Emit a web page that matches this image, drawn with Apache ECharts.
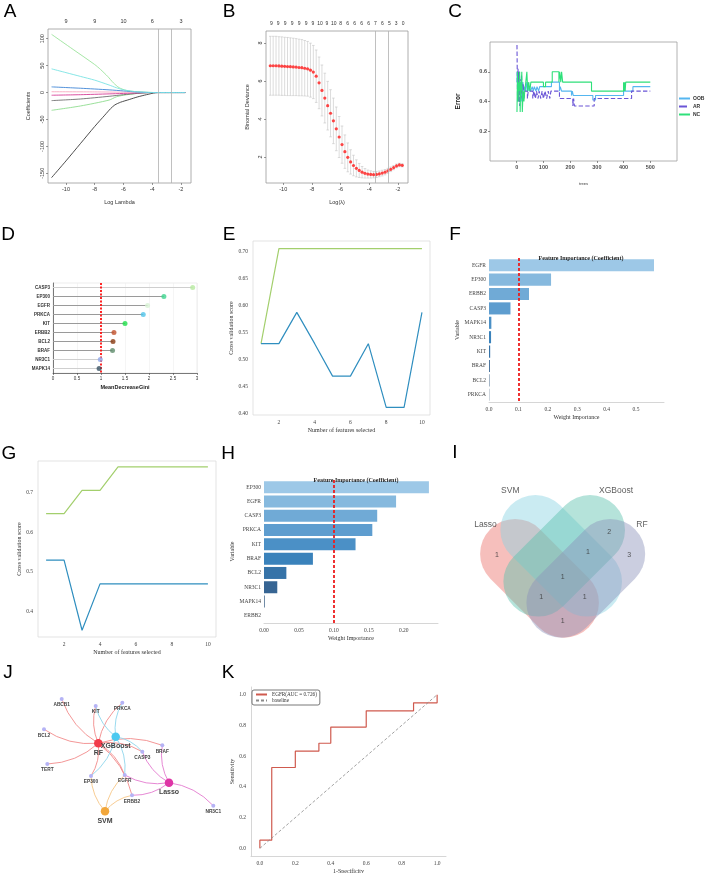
<!DOCTYPE html>
<html>
<head>
<meta charset="utf-8">
<script src="https://cdn.jsdelivr.net/npm/echarts@6/dist/echarts.min.js"></script>
<style>
  html, body { margin: 0; padding: 0; background: #fff; }
  #main { width: 708px; height: 873px; }
</style>
</head>
<body>
<div id="main"></div>
<script>
/* multi-panel figure: lasso / RF / RFE / venn / network / ROC */

const sans = 'Liberation Sans, Arial, sans-serif';
const serif = 'Liberation Serif, Times New Roman, serif';

// ---- A: lasso coefficient paths
const lassoLambdaTicks = [-10, -8, -6, -4, -2];
const lassoTopLabels = ['9', '9', '10', '6', '3'];
const lassoCoefTicks = [-150, -100, -50, 0, 50, 100];
const pathGreenTop = [[-11, 108], [-9.5, 80], [-8, 52], [-7.6, 43], [-7.1, 30], [-6.7, 18], [-6.3, 9], [-5.8, 4], [-5.2, 1.8], [-4.4, 0.6], [-3.8, 0], [-1.7, 0]];
const pathBlue = [[-11, 10.5], [-9, 8], [-7, 5], [-6, 3], [-5, 0.8], [-4, 0], [-1.7, 0]];
const pathPink = [[-11, 1.5], [-8, 1.2], [-6, 0.6], [-4, 0], [-1.7, 0]];
const pathMagenta = [[-11, -5], [-9, -4], [-7, -2.5], [-5, -0.8], [-4, 0], [-1.7, 0]];
const pathGray = [[-11, -15], [-9, -12], [-7, -7], [-6, -4], [-5, -1.5], [-4, 0], [-1.7, 0]];
const pathGreenLow = [[-11, -33], [-9, -25], [-7, -14], [-6.5, -8], [-6, -5], [-5, -1.5], [-4, 0], [-1.7, 0]];
const pathBlack = [[-11, -158], [-10, -127], [-9, -95], [-8, -63], [-7.3, -42], [-6.9, -30], [-6.6, -23], [-6.2, -18], [-5.6, -13], [-5, -8], [-4.4, -4], [-3.9, -1], [-3.6, 0], [-1.7, 0]];
const pathCyan = [[-11, 44], [-10, 37], [-9, 30], [-8, 23], [-7, 14], [-6.5, 9], [-6, 5], [-5.3, 2], [-4.5, 0.5], [-3.8, 0], [-1.7, 0]];
const lambdaMin = -3.56;
const lambda1se = -2.65;

// ---- B: cross-validated binomial deviance
const cvLambda = [-10.9, -10.7, -10.5, -10.3, -10.1, -9.9, -9.7, -9.5, -9.3, -9.1, -8.9, -8.7, -8.5, -8.3, -8.1, -7.9, -7.7, -7.5, -7.3, -7.1, -6.9, -6.7, -6.5, -6.3, -6.1, -5.9, -5.7, -5.5, -5.3, -5.1, -4.9, -4.7, -4.5, -4.3, -4.1, -3.9, -3.7, -3.5, -3.3, -3.1, -2.9, -2.7, -2.5, -2.3, -2.1, -1.9, -1.7];
const cvDeviance = [6.80, 6.80, 6.80, 6.79, 6.78, 6.77, 6.76, 6.75, 6.74, 6.73, 6.71, 6.70, 6.67, 6.64, 6.57, 6.47, 6.25, 5.90, 5.50, 5.10, 4.70, 4.30, 3.90, 3.48, 3.05, 2.65, 2.28, 1.98, 1.74, 1.55, 1.40, 1.29, 1.20, 1.14, 1.10, 1.08, 1.07, 1.08, 1.11, 1.15, 1.20, 1.27, 1.35, 1.44, 1.53, 1.58, 1.56];
const cvSpread = [1.55, 1.55, 1.55, 1.54, 1.54, 1.53, 1.53, 1.52, 1.51, 1.50, 1.49, 1.48, 1.46, 1.44, 1.42, 1.40, 1.38, 1.36, 1.34, 1.31, 1.28, 1.24, 1.20, 1.15, 1.08, 0.98, 0.88, 0.76, 0.64, 0.54, 0.45, 0.37, 0.30, 0.25, 0.21, 0.19, 0.17, 0.16, 0.15, 0.15, 0.14, 0.13, 0.12, 0.11, 0.10, 0.09, 0.08];
const cvTopTicks = [-10.83, -10.35, -9.86, -9.38, -8.89, -8.41, -7.93, -7.44, -6.96, -6.47, -5.99, -5.51, -5.02, -4.54, -4.05, -3.57, -3.09, -2.60, -2.12, -1.64];
const cvTopLabels = ['9', '9', '9', '9', '9', '9', '9', '10', '9', '10', '8', '6', '6', '6', '6', '7', '6', '5', '3', '0'];
const cvDevTicks = [2, 4, 6, 8];

// ---- C: random forest error vs trees
const treeTicks = [0, 100, 200, 300, 400, 500];
const errTicks = [0.2, 0.4, 0.6];
const oobErr = [[1, 0.53], [2, 0.6], [4, 0.4], [6, 0.53], [8, 0.47], [10, 0.6], [12, 0.47], [14, 0.53], [17, 0.4], [20, 0.47], [23, 0.53], [26, 0.47], [30, 0.5], [34, 0.47], [38, 0.53], [42, 0.47], [46, 0.5], [52, 0.47], [58, 0.5], [62, 0.47], [66, 0.5], [72, 0.47], [76, 0.5], [82, 0.47], [86, 0.5], [130, 0.53], [160, 0.47], [163, 0.5], [168, 0.47], [205, 0.44], [208, 0.47], [212, 0.44], [285, 0.41], [295, 0.44], [400, 0.47], [435, 0.5], [500, 0.5]];
const arErr = [[1, 0.78], [2, 0.6], [3, 0.42], [5, 0.62], [7, 0.4], [9, 0.6], [11, 0.37], [13, 0.55], [15, 0.42], [18, 0.58], [21, 0.42], [24, 0.52], [27, 0.42], [30, 0.47], [40, 0.42], [43, 0.47], [60, 0.42], [64, 0.47], [70, 0.42], [74, 0.47], [80, 0.42], [84, 0.47], [90, 0.42], [95, 0.47], [100, 0.42], [106, 0.47], [112, 0.42], [118, 0.47], [124, 0.42], [128, 0.47], [160, 0.42], [210, 0.37], [213, 0.42], [216, 0.37], [290, 0.42], [430, 0.47], [500, 0.47]];
const ncErr = [[1, 0.33], [3, 0.6], [5, 0.4], [7, 0.53], [9, 0.47], [11, 0.6], [13, 0.33], [15, 0.53], [17, 0.47], [19, 0.6], [21, 0.33], [24, 0.47], [27, 0.4], [30, 0.47], [34, 0.53], [38, 0.6], [41, 0.47], [45, 0.53], [49, 0.47], [53, 0.53], [100, 0.5], [108, 0.53], [133, 0.6], [158, 0.53], [161, 0.6], [165, 0.53], [168, 0.6], [172, 0.53], [280, 0.47], [400, 0.53], [402, 0.47], [404, 0.53], [406, 0.47], [408, 0.53], [500, 0.53]];

// ---- D: mean decrease gini
const giniGenes = ['CASP3', 'EP300', 'EGFR', 'PRKCA', 'KIT', 'ERBB2', 'BCL2', 'BRAF', 'NR3C1', 'MAPK14'];
const giniValues = [2.91, 2.31, 1.97, 1.88, 1.50, 1.27, 1.25, 1.24, 0.985, 0.96];
const giniColors = ['#b6eaa0', '#3fd48e', '#d8f3d4', '#50c4ea', '#1fe04a', '#c2502a', '#8a3a10', '#5e8c6c', '#8ea6ea', '#3a5264'];

// ---- E / G: RFE cross validation
const nFeatures = [1, 2, 3, 4, 5, 6, 7, 8, 9, 10];
const rfeTrainE = [0.53, 0.706, 0.706, 0.706, 0.706, 0.706, 0.706, 0.706, 0.706, 0.706];
const rfeTestE = [0.53, 0.53, 0.588, 0.53, 0.47, 0.47, 0.53, 0.412, 0.412, 0.588];
const rfeTrainG = [0.647, 0.647, 0.706, 0.706, 0.765, 0.765, 0.765, 0.765, 0.765, 0.765];
const rfeTestG = [0.53, 0.53, 0.353, 0.47, 0.47, 0.47, 0.47, 0.47, 0.47, 0.47];
const featTicks = [2, 4, 6, 8, 10];
const scoreTicksE = [0.40, 0.45, 0.50, 0.55, 0.60, 0.65, 0.70];
const scoreTicksG = [0.4, 0.5, 0.6, 0.7];

// ---- F / H: coefficient importance
const genesF = ['EGFR', 'EP300', 'ERBB2', 'CASP3', 'MAPK14', 'NR3C1', 'KIT', 'BRAF', 'BCL2', 'PRKCA'];
const weightsF = [0.561, 0.211, 0.136, 0.073, 0.008, 0.007, 0.004, 0.003, 0.0015, 0.0008];
const weightTicksF = [0, 0.1, 0.2, 0.3, 0.4, 0.5];
const genesH = ['EP300', 'EGFR', 'CASP3', 'PRKCA', 'KIT', 'BRAF', 'BCL2', 'NR3C1', 'MAPK14', 'ERBB2'];
const weightsH = [0.236, 0.189, 0.162, 0.155, 0.131, 0.070, 0.032, 0.019, 0.001, 0];
const weightTicksH = [0, 0.05, 0.10, 0.15, 0.20];
const bluesD = ['#9dc8e7', '#86b9de', '#70aad6', '#5e9dcf', '#4b90c6', '#3a82bb', '#3673a8', '#376593', '#345a80', '#2e4e70'];
const cutoff = 0.1;

// ---- I: venn
const vennNames = ['Lasso', 'SVM', 'XGBoost', 'RF'];
const vennCenters = [[67.5, 148.3], [89.2, 125.8], [92.2, 125.8], [113.8, 148.3]];
const vennLengths = [139, 143, 143, 139];
const vennWidths = [70, 70, 70, 70];
const vennAngles = [-45, -45, 45, 45];
const vennColors = ['#ea716a', '#8ad2e2', '#5cc2ac', '#8b93bb'];
const vennLabelPos = [[13.5, 95], [38.3, 61], [144, 61], [170, 94.3]];
const vennCountPos = [[25, 125], [137.3, 102.3], [157.3, 125], [116, 122.3], [90.7, 146.7], [69.3, 166.7], [112.7, 166.7], [90.7, 190.7]];
const vennCounts = [1, 2, 3, 1, 1, 1, 1, 1];

// ---- J: network
const netGenes = ['ABCB1', 'KIT', 'PRKCA', 'BCL2', 'BRAF', 'CASP3', 'TERT', 'EP300', 'EGFR', 'ERBB2', 'NR3C1'];
const netGenePos = [[61.7, 59], [95.7, 66], [122.3, 62.7], [44, 89.3], [162.3, 105.3], [142.3, 111.7], [47.3, 124], [91, 136], [124.7, 135], [132, 155.3], [213.3, 165.7]];
const netModels = ['RF', 'XGBoost', 'Lasso', 'SVM'];
const netModelPos = [[98.3, 103.3], [115.7, 96.7], [169, 142.7], [105, 171.3]];
const netModelColors = ['#f23b4a', '#4cc9f0', '#de35a6', '#f2a73b'];
const netEdgeColors = ['#f28b8b', '#8fd6ec', '#e37bcf', '#f6c687'];
const netEdges = [
  ['RF', 'ABCB1'], ['RF', 'KIT'], ['RF', 'PRKCA'], ['RF', 'BCL2'], ['RF', 'TERT'], ['RF', 'EP300'], ['RF', 'EGFR'], ['RF', 'CASP3'], ['RF', 'ERBB2'], ['RF', 'BRAF'],
  ['XGBoost', 'KIT'], ['XGBoost', 'PRKCA'], ['XGBoost', 'EP300'], ['XGBoost', 'EGFR'], ['XGBoost', 'CASP3'],
  ['Lasso', 'NR3C1'], ['Lasso', 'EGFR'], ['Lasso', 'CASP3'], ['Lasso', 'ERBB2'], ['Lasso', 'BRAF'],
  ['SVM', 'EP300'], ['SVM', 'EGFR'], ['SVM', 'ERBB2'],
];

// ---- K: ROC
const rocFpr = [0, 0, 0.067, 0.067, 0.2, 0.2, 0.333, 0.333, 0.4, 0.4, 0.6, 0.6, 0.867, 0.867, 1, 1];
const rocTpr = [0, 0.053, 0.053, 0.526, 0.526, 0.632, 0.632, 0.684, 0.684, 0.789, 0.789, 0.895, 0.895, 0.947, 0.947, 1];
const rocTicks = [0, 0.2, 0.4, 0.6, 0.8, 1.0];
const baseline = [[0, 0], [1, 1]];

const chart = echarts.init(document.getElementById('main'), null, { renderer: 'canvas' });

const boxed = (left, top, width, height, color) => ({
  left, top, width, height, show: true, borderColor: color, borderWidth: 0.8,
  backgroundColor: 'transparent', containLabel: false, outerBoundsMode: 'none',
});
const plain = (left, top, width, height) => ({ left, top, width, height, containLabel: false, outerBoundsMode: 'none' });

const grids = [
  boxed(48, 29, 143, 154, '#9a9a9a'),   // A
  boxed(266, 31, 142, 152, '#9a9a9a'),  // B
  boxed(490, 42, 187, 119, '#a0a0a0'),  // C
  boxed(53, 283, 144, 90, '#e8e8e8'),   // D
  boxed(253, 241, 177, 174, '#dcdcdc'), // E
  plain(489, 258, 175, 144),            // F
  boxed(38, 461, 178, 176, '#dcdcdc'),  // G
  plain(264, 480, 174, 143),            // H
  plain(472, 430, 236, 210),            // I
  plain(0, 640, 236, 233),              // J
  plain(251, 687, 195, 169),            // K
];

const rTick = { show: true, length: 2, lineStyle: { color: '#555', width: 0.6 } };
const rLabel = { fontSize: 5.5, color: '#333', fontFamily: sans, margin: 3 };
const rName = { fontSize: 5.5, color: '#333', fontFamily: sans };
const sLabel = { fontSize: 5.5, color: '#444', fontFamily: serif, margin: 5 };
const sName = { fontSize: 6, color: '#333', fontFamily: serif };
const noLine = { show: false, onZero: false };
const grayLine = { show: true, onZero: false, lineStyle: { color: '#cccccc', width: 0.8 } };
const darkLine = { show: true, onZero: false, lineStyle: { color: '#444', width: 0.7 } };
const noSplit = { show: false };

function pickLabel(ticks, labels) {
  return (v) => {
    const i = ticks.findIndex((t) => Math.abs(t - v) < 1e-6);
    return i >= 0 ? labels[i] : '';
  };
}

const xAxis = [
  // 0 A bottom
  { gridIndex: 0, type: 'value', min: -11.25, max: -1.3, axisLine: noLine, splitLine: noSplit,
    axisTick: { ...rTick, customValues: lassoLambdaTicks }, axisLabel: { ...rLabel, customValues: lassoLambdaTicks },
    name: 'Log Lambda', nameLocation: 'middle', nameGap: 16, nameTextStyle: rName },
  // 1 A top
  { gridIndex: 0, type: 'value', position: 'top', min: -11.25, max: -1.3, axisLine: noLine, splitLine: noSplit,
    axisTick: { show: false }, axisLabel: { ...rLabel, margin: 5, customValues: lassoLambdaTicks, formatter: pickLabel(lassoLambdaTicks, lassoTopLabels) } },
  // 2 B bottom
  { gridIndex: 1, type: 'value', min: -11.2, max: -1.3, axisLine: noLine, splitLine: noSplit,
    axisTick: { ...rTick, customValues: lassoLambdaTicks }, axisLabel: { ...rLabel, customValues: lassoLambdaTicks },
    name: 'Log(λ)', nameLocation: 'middle', nameGap: 16, nameTextStyle: rName },
  // 3 B top
  { gridIndex: 1, type: 'value', position: 'top', min: -11.2, max: -1.3, axisLine: noLine, splitLine: noSplit,
    axisTick: { show: false }, axisLabel: { ...rLabel, fontSize: 5, margin: 5, customValues: cvTopTicks, formatter: pickLabel(cvTopTicks, cvTopLabels) } },
  // 4 C
  { gridIndex: 2, type: 'value', min: -100, max: 600, axisLine: noLine, splitLine: noSplit,
    axisTick: { show: true, length: 2, lineStyle: { color: '#444', width: 0.6 }, customValues: treeTicks },
    axisLabel: { fontSize: 5.5, fontWeight: 'bold', color: '#4d4d4d', fontFamily: sans, margin: 3, customValues: treeTicks },
    name: 'trees', nameLocation: 'middle', nameGap: 21, nameTextStyle: { fontSize: 4, color: '#333', fontFamily: sans } },
  // 5 D
  { gridIndex: 3, type: 'value', min: 0, max: 3, interval: 0.5,
    axisLine: darkLine, axisTick: { show: true, length: 2, lineStyle: { color: '#444', width: 0.6 } },
    splitLine: { show: true, lineStyle: { color: '#eeeeee', width: 0.6 } },
    axisLabel: { fontSize: 4.5, color: '#333', fontFamily: sans, margin: 3 },
    name: 'MeanDecreaseGini', nameLocation: 'middle', nameGap: 11, nameTextStyle: { fontSize: 5.5, fontWeight: 'bold', color: '#222', fontFamily: sans } },
  // 6 E
  { gridIndex: 4, type: 'value', min: 0.55, max: 10.45, axisLine: noLine, axisTick: { show: false }, splitLine: noSplit,
    axisLabel: { ...sLabel, customValues: featTicks },
    name: 'Number of features selected', nameLocation: 'middle', nameGap: 12, nameTextStyle: sName },
  // 7 F
  { gridIndex: 5, type: 'value', min: 0, max: 0.595, axisLine: grayLine,
    axisTick: { show: false }, splitLine: noSplit,
    axisLabel: { ...sLabel, customValues: weightTicksF, formatter: (v) => v.toFixed(1) },
    name: 'Weight Importance', nameLocation: 'middle', nameGap: 12, nameTextStyle: sName },
  // 8 G
  { gridIndex: 6, type: 'value', min: 0.55, max: 10.45, axisLine: noLine, axisTick: { show: false }, splitLine: noSplit,
    axisLabel: { ...sLabel, customValues: featTicks },
    name: 'Number of features selected', nameLocation: 'middle', nameGap: 12, nameTextStyle: sName },
  // 9 H
  { gridIndex: 7, type: 'value', min: 0, max: 0.249, axisLine: grayLine,
    axisTick: { show: false }, splitLine: noSplit,
    axisLabel: { ...sLabel, customValues: weightTicksH, formatter: (v) => v.toFixed(2) },
    name: 'Weight Importance', nameLocation: 'middle', nameGap: 12, nameTextStyle: sName },
  // 10 I (hidden)
  { gridIndex: 8, type: 'value', min: 0, max: 236, show: false },
  // 11 J (hidden)
  { gridIndex: 9, type: 'value', min: 0, max: 236, show: false },
  // 12 K
  { gridIndex: 10, type: 'value', min: -0.05, max: 1.05, axisLine: grayLine,
    axisTick: { show: false }, splitLine: noSplit,
    axisLabel: { ...sLabel, customValues: rocTicks, formatter: (v) => v.toFixed(1) },
    name: '1-Specificity', nameLocation: 'middle', nameGap: 12, nameTextStyle: sName },
];

const yAxis = [
  // 0 A
  { gridIndex: 0, type: 'value', min: -168, max: 118, axisLine: noLine, splitLine: noSplit,
    axisTick: { ...rTick, customValues: lassoCoefTicks }, axisLabel: { ...rLabel, rotate: 90, customValues: lassoCoefTicks },
    name: 'Coefficients', nameLocation: 'middle', nameGap: 17, nameTextStyle: rName },
  // 1 B
  { gridIndex: 1, type: 'value', min: 0.63, max: 8.63, axisLine: noLine, splitLine: noSplit,
    axisTick: { ...rTick, customValues: cvDevTicks }, axisLabel: { ...rLabel, rotate: 90, customValues: cvDevTicks },
    name: 'Binomial Deviance', nameLocation: 'middle', nameGap: 16, nameTextStyle: rName },
  // 2 C
  { gridIndex: 2, type: 'value', min: 0, max: 0.8, axisLine: noLine, splitLine: noSplit,
    axisTick: { show: true, length: 2, lineStyle: { color: '#444', width: 0.6 }, customValues: errTicks },
    axisLabel: { fontSize: 5.5, fontWeight: 'bold', color: '#4d4d4d', fontFamily: sans, margin: 3, customValues: errTicks, formatter: (v) => v.toFixed(1) },
    name: 'Error', nameLocation: 'middle', nameGap: 28, nameTextStyle: { fontSize: 6.5, fontWeight: 'bold', color: '#222', fontFamily: sans } },
  // 3 D
  { gridIndex: 3, type: 'category', inverse: true, data: giniGenes,
    axisLine: darkLine, axisTick: { show: false },
    splitLine: { show: false },
    axisLabel: { fontSize: 4.5, fontWeight: 'bold', color: '#333', fontFamily: sans, margin: 3 } },
  // 4 E
  { gridIndex: 4, type: 'value', min: 0.398, max: 0.72, axisLine: noLine, axisTick: { show: false }, splitLine: noSplit,
    axisLabel: { ...sLabel, customValues: scoreTicksE, formatter: (v) => v.toFixed(2) },
    name: 'Cross validation score', nameLocation: 'middle', nameGap: 16, nameTextStyle: sName },
  // 5 F
  { gridIndex: 5, type: 'category', inverse: true, data: genesF, axisLine: noLine, axisTick: { show: false },
    axisLabel: { ...sLabel, margin: 3 },
    name: 'Variable', nameLocation: 'middle', nameGap: 26, nameTextStyle: sName },
  // 6 G
  { gridIndex: 6, type: 'value', min: 0.336, max: 0.78, axisLine: noLine, axisTick: { show: false }, splitLine: noSplit,
    axisLabel: { ...sLabel, customValues: scoreTicksG, formatter: (v) => v.toFixed(1) },
    name: 'Cross validation score', nameLocation: 'middle', nameGap: 16, nameTextStyle: sName },
  // 7 H
  { gridIndex: 7, type: 'category', inverse: true, data: genesH, axisLine: noLine, axisTick: { show: false },
    axisLabel: { ...sLabel, margin: 3 },
    name: 'Variable', nameLocation: 'middle', nameGap: 25, nameTextStyle: sName },
  // 8 I (hidden)
  { gridIndex: 8, type: 'value', min: 0, max: 210, inverse: true, show: false },
  // 9 J (hidden)
  { gridIndex: 9, type: 'value', min: 0, max: 233, inverse: true, show: false },
  // 10 K
  { gridIndex: 10, type: 'value', min: -0.05, max: 1.05, axisLine: grayLine,
    axisTick: { show: false }, splitLine: noSplit,
    axisLabel: { ...sLabel, customValues: rocTicks, formatter: (v) => v.toFixed(1) },
    name: 'Sensitivity', nameLocation: 'middle', nameGap: 12, nameTextStyle: sName },
];

const vline = (vals) => ({
  silent: true, symbol: 'none', label: { show: false },
  lineStyle: { color: '#b0b0b0', width: 0.8, type: 'solid' },
  data: vals.map((v) => ({ xAxis: v })),
});

const pathLine = (data, color) => ({
  type: 'line', xAxisIndex: 0, yAxisIndex: 0, data, symbol: 'none', smooth: 0.25,
  lineStyle: { color, width: 0.9 }, silent: true,
});

const series = [];

// A
series.push(pathLine(pathGreenTop, '#9be39b'));
series.push(pathLine(pathBlack, '#3a3a3a'));
series.push(pathLine(pathGreenLow, '#8fdc8f'));
series.push(pathLine(pathGray, '#6e6e6e'));
series.push(pathLine(pathMagenta, '#d63c96'));
series.push(pathLine(pathPink, '#f7a8bf'));
series.push(pathLine(pathBlue, '#3f86d6'));
series.push({ ...pathLine(pathCyan, '#79e3e3'), markLine: vline([lambdaMin, lambda1se]) });

// B error bars + mean dots
series.push({
  type: 'custom', xAxisIndex: 2, yAxisIndex: 1, silent: true,
  data: cvLambda.map((x, i) => [x, cvDeviance[i] - cvSpread[i], cvDeviance[i] + cvSpread[i]]),
  renderItem: (params, api) => {
    const lo = api.coord([api.value(0), api.value(1)]);
    const hi = api.coord([api.value(0), api.value(2)]);
    const st = { stroke: '#c4c4c4', lineWidth: 0.6 };
    return {
      type: 'group',
      children: [
        { type: 'line', shape: { x1: lo[0], y1: lo[1], x2: hi[0], y2: hi[1] }, style: st },
        { type: 'line', shape: { x1: lo[0] - 1.3, y1: lo[1], x2: lo[0] + 1.3, y2: lo[1] }, style: st },
        { type: 'line', shape: { x1: hi[0] - 1.3, y1: hi[1], x2: hi[0] + 1.3, y2: hi[1] }, style: st },
      ],
    };
  },
});
series.push({
  type: 'scatter', xAxisIndex: 2, yAxisIndex: 1, silent: true, symbolSize: 3.2,
  itemStyle: { color: '#ff1a1a' },
  data: cvLambda.map((x, i) => [x, cvDeviance[i]]),
  markLine: vline([lambdaMin, lambda1se]),
});

// C
const stepLine = (name, data, color, type) => ({
  name, type: 'line', xAxisIndex: 4, yAxisIndex: 2, data, step: 'end', symbol: 'none', silent: true,
  lineStyle: { color, width: 1.1, type }, itemStyle: { color },
});
series.push(stepLine('OOB', oobErr, '#55b6f0', 'solid'));
series.push(stepLine('AR', arErr, '#6a55d6', 'dashed'));
series.push(stepLine('NC', ncErr, '#2fe07a', 'solid'));

// D lollipop
series.push({
  type: 'custom', xAxisIndex: 5, yAxisIndex: 3, silent: true,
  data: giniValues.map((v, i) => [v, i]),
  renderItem: (params, api) => {
    const a = api.coord([0, api.value(1)]);
    const b = api.coord([api.value(0), api.value(1)]);
    const light = params.dataIndex === 0 || params.dataIndex >= 8;
    return { type: 'line', shape: { x1: a[0], y1: a[1], x2: b[0], y2: b[1] }, style: { stroke: light ? '#cfcfcf' : '#9a9a9a', lineWidth: 1.2 } };
  },
  markLine: {
    silent: true, symbol: 'none', label: { show: false },
    lineStyle: { color: '#ff1010', width: 1.8, type: [2, 1.5] },
    data: [{ xAxis: 1 }],
  },
});
series.push({
  type: 'scatter', xAxisIndex: 5, yAxisIndex: 3, silent: true, symbolSize: 5, z: 5,
  data: giniValues.map((v, i) => ({ value: [v, i], itemStyle: { color: giniColors[i] } })),
});

// E / G
const cvLine = (xi, yi, data, color) => ({
  type: 'line', xAxisIndex: xi, yAxisIndex: yi, symbol: 'none', silent: true,
  data: nFeatures.map((n, i) => [n, data[i]]), lineStyle: { color, width: 1.2 },
});
series.push(cvLine(6, 4, rfeTrainE, '#a3cf6d'));
series.push(cvLine(6, 4, rfeTestE, '#2f8ebf'));
series.push(cvLine(8, 6, rfeTrainG, '#a3cf6d'));
series.push(cvLine(8, 6, rfeTestG, '#2f8ebf'));

// F / H bars
const impBars = (xi, yi, vals) => ({
  type: 'bar', xAxisIndex: xi, yAxisIndex: yi, silent: true, barCategoryGap: '16%',
  data: vals.map((v, i) => ({ value: v, itemStyle: { color: bluesD[i] } })),
  markLine: {
    silent: true, symbol: 'none', label: { show: false },
    lineStyle: { color: '#ee1c1c', width: 1.8, type: [3, 2] },
    data: [{ xAxis: cutoff }],
  },
});
series.push(impBars(7, 5, weightsF));
series.push(impBars(9, 7, weightsH));

// I venn
series.push({
  type: 'custom', xAxisIndex: 10, yAxisIndex: 8, silent: true,
  data: vennCenters.map((c, i) => [c[0], c[1], vennLengths[i], vennWidths[i], vennAngles[i]]),
  renderItem: (params, api) => {
    const c = api.coord([api.value(0), api.value(1)]);
    const s = api.size([api.value(2), api.value(3)]);
    const L = Math.abs(s[0]);
    const W = Math.abs(s[1]);
    return {
      type: 'rect', x: c[0], y: c[1], rotation: api.value(4) * Math.PI / 180,
      shape: { x: -L / 2, y: -W / 2, width: L, height: W, r: W / 2 },
      style: { fill: vennColors[params.dataIndex], opacity: 0.45 },
    };
  },
});
series.push({
  type: 'scatter', xAxisIndex: 10, yAxisIndex: 8, silent: true, symbolSize: 1, z: 5,
  itemStyle: { color: 'rgba(0,0,0,0)' },
  data: vennCountPos.map((p, i) => [p[0], p[1], vennCounts[i]]),
  label: { show: true, position: 'inside', formatter: (p) => String(p.value[2]), fontSize: 7, color: '#333', fontFamily: sans },
});
series.push({
  type: 'scatter', xAxisIndex: 10, yAxisIndex: 8, silent: true, symbolSize: 1, z: 5,
  itemStyle: { color: 'rgba(0,0,0,0)' },
  data: vennLabelPos.map((p, i) => [p[0], p[1], i]),
  label: { show: true, position: 'inside', formatter: (p) => vennNames[p.value[2]], fontSize: 8.5, color: '#333', fontFamily: sans },
});

// J network
const netData = [
  ...netGenes.map((g, i) => ({
    name: g, value: netGenePos[i], symbolSize: 4, itemStyle: { color: '#b5b3f5' },
    label: { show: true, position: 'bottom', distance: 1.5, fontSize: 4.8, fontWeight: 'bold', color: '#444', fontFamily: sans },
  })),
  ...netModels.map((m, i) => ({
    name: m, value: netModelPos[i], symbolSize: 8.5, itemStyle: { color: netModelColors[i] },
    label: { show: true, position: 'bottom', distance: 2, fontSize: 7, fontWeight: 'bold', color: '#444', fontFamily: sans },
  })),
];
series.push({
  type: 'graph', coordinateSystem: 'cartesian2d', xAxisIndex: 11, yAxisIndex: 9, silent: true,
  data: netData,
  links: netEdges.map(([m, g]) => ({ source: m, target: g, lineStyle: { color: netEdgeColors[netModels.indexOf(m)] } })),
  lineStyle: { width: 0.9, curveness: 0.18, opacity: 1 },
  edgeSymbol: ['none', 'none'],
});

// K ROC
series.push({
  name: 'EGFR(AUC = 0.726)', type: 'line', xAxisIndex: 12, yAxisIndex: 10, symbol: 'none', silent: true,
  data: rocFpr.map((x, i) => [x, rocTpr[i]]), lineStyle: { color: '#cf5a4e', width: 1.2 }, itemStyle: { color: '#cf5a4e' },
});
series.push({
  name: 'baseline', type: 'line', xAxisIndex: 12, yAxisIndex: 10, symbol: 'none', silent: true,
  data: baseline, lineStyle: { color: '#8a8a8a', width: 0.8, type: [3, 2] }, itemStyle: { color: '#8a8a8a' },
});

const letters = [['A', 10, 12], ['B', 229, 12], ['C', 455, 12], ['D', 8, 235], ['E', 229, 235], ['F', 455, 235],
  ['G', 9, 454], ['H', 228, 454], ['I', 455, 453], ['J', 8, 673], ['K', 228, 673]];

const impTitle = (x, y) => ({
  text: 'Feature Importance (Coefficient)', left: x, top: y, textAlign: 'center',
  textStyle: { fontFamily: serif, fontSize: 6, fontWeight: 'bold', color: '#222' },
});

// legend keys: line only, no marker
const hideMarker = { opacity: 0, color: 'rgba(0,0,0,0)', borderWidth: 0 };

chart.setOption({
  animation: false,
  backgroundColor: '#ffffff',
  title: [impTitle(576, 250), impTitle(351, 472)],
  grid: grids,
  xAxis,
  yAxis,
  legend: [
    {
      data: ['OOB', 'AR', 'NC'], orient: 'vertical', left: 678, top: 96, width: 30, padding: 0,
      itemWidth: 11, itemHeight: 6, itemGap: 3, itemStyle: hideMarker,
      textStyle: { fontSize: 5, fontWeight: 'bold', color: '#333', fontFamily: sans, padding: [0, 0, 0, -2] }, selectedMode: false,
    },
    {
      data: ['EGFR(AUC = 0.726)', 'baseline'], orient: 'vertical', left: 252, top: 690, itemWidth: 11, itemHeight: 5, itemGap: 1,
      padding: [2, 3, 2, 3], borderColor: '#555', borderWidth: 0.8, borderRadius: 2, itemStyle: hideMarker,
      textStyle: { fontSize: 5.2, color: '#333', fontFamily: serif }, selectedMode: false,
    },
  ],
  graphic: letters.map(([t, x, y]) => ({
    type: 'text', x, y,
    style: { text: t, fontSize: 19, fontFamily: sans, fill: '#000', align: 'center', verticalAlign: 'middle' },
  })),
  series,
});
</script>
</body>
</html>
